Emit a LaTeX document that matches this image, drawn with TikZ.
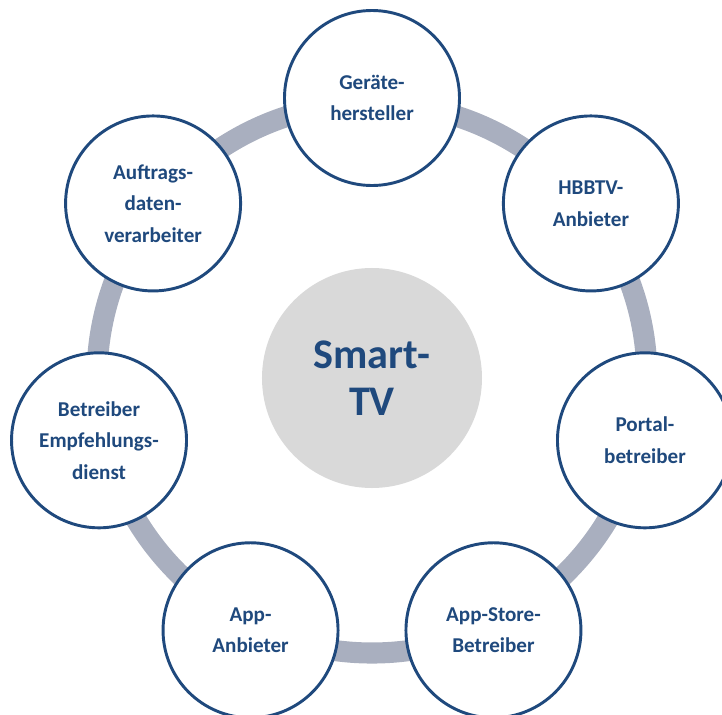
\documentclass[tikz,border=0pt]{standalone}
\usepackage{fontspec}
\setmainfont{Carlito}
\definecolor{tvblue}{HTML}{1F497D}
\definecolor{ringgray}{HTML}{A9AFBF}
\definecolor{tvgray}{HTML}{D9D9D9}
\begin{document}
\begin{tikzpicture}[x=.03cm,y=.03cm,
    actor/.style={circle,draw=tvblue,line width=2.5pt,fill=white,
        minimum size=5.25cm,inner sep=0pt,align=center,text=tvblue,
        font=\fontsize{18}{27}\selectfont\bfseries},
    ring/.style={draw=ringgray,line width=18pt}]
            \useasboundingbox (-372,-336) rectangle (350,378);
            \clip (-372,-336) rectangle (350,378);
            \node[circle,fill=tvgray,minimum size=6.6cm,align=center,text=tvblue,
                font=\fontsize{36}{40}\selectfont\bfseries] (tv) at (0,0) {Smart-\\TV};
            \draw[ring] (tv.center) circle (275);
            \node[actor] (hersteller) at (90:280) {Geräte-\\hersteller};
            \node[actor] (hbbtv) at (38.57:280) {HBBTV-\\Anbieter};
            \node[actor] (portal) at (-12.86:280) {Portal-\\betreiber};
            \node[actor] (appstore) at (-64.29:280) {App-Store-\\Betreiber};
            \node[actor] (appanbieter) at (-115.71:280) {App-\\Anbieter};
            \node[actor] (empfehlung) at (-167.14:280) {Betreiber\\Empfehlungs-\\dienst};
            \node[actor] (auftrag) at (141.43:280) {Auftrags-\\daten-\\verarbeiter};
        \end{tikzpicture}
\end{document}
